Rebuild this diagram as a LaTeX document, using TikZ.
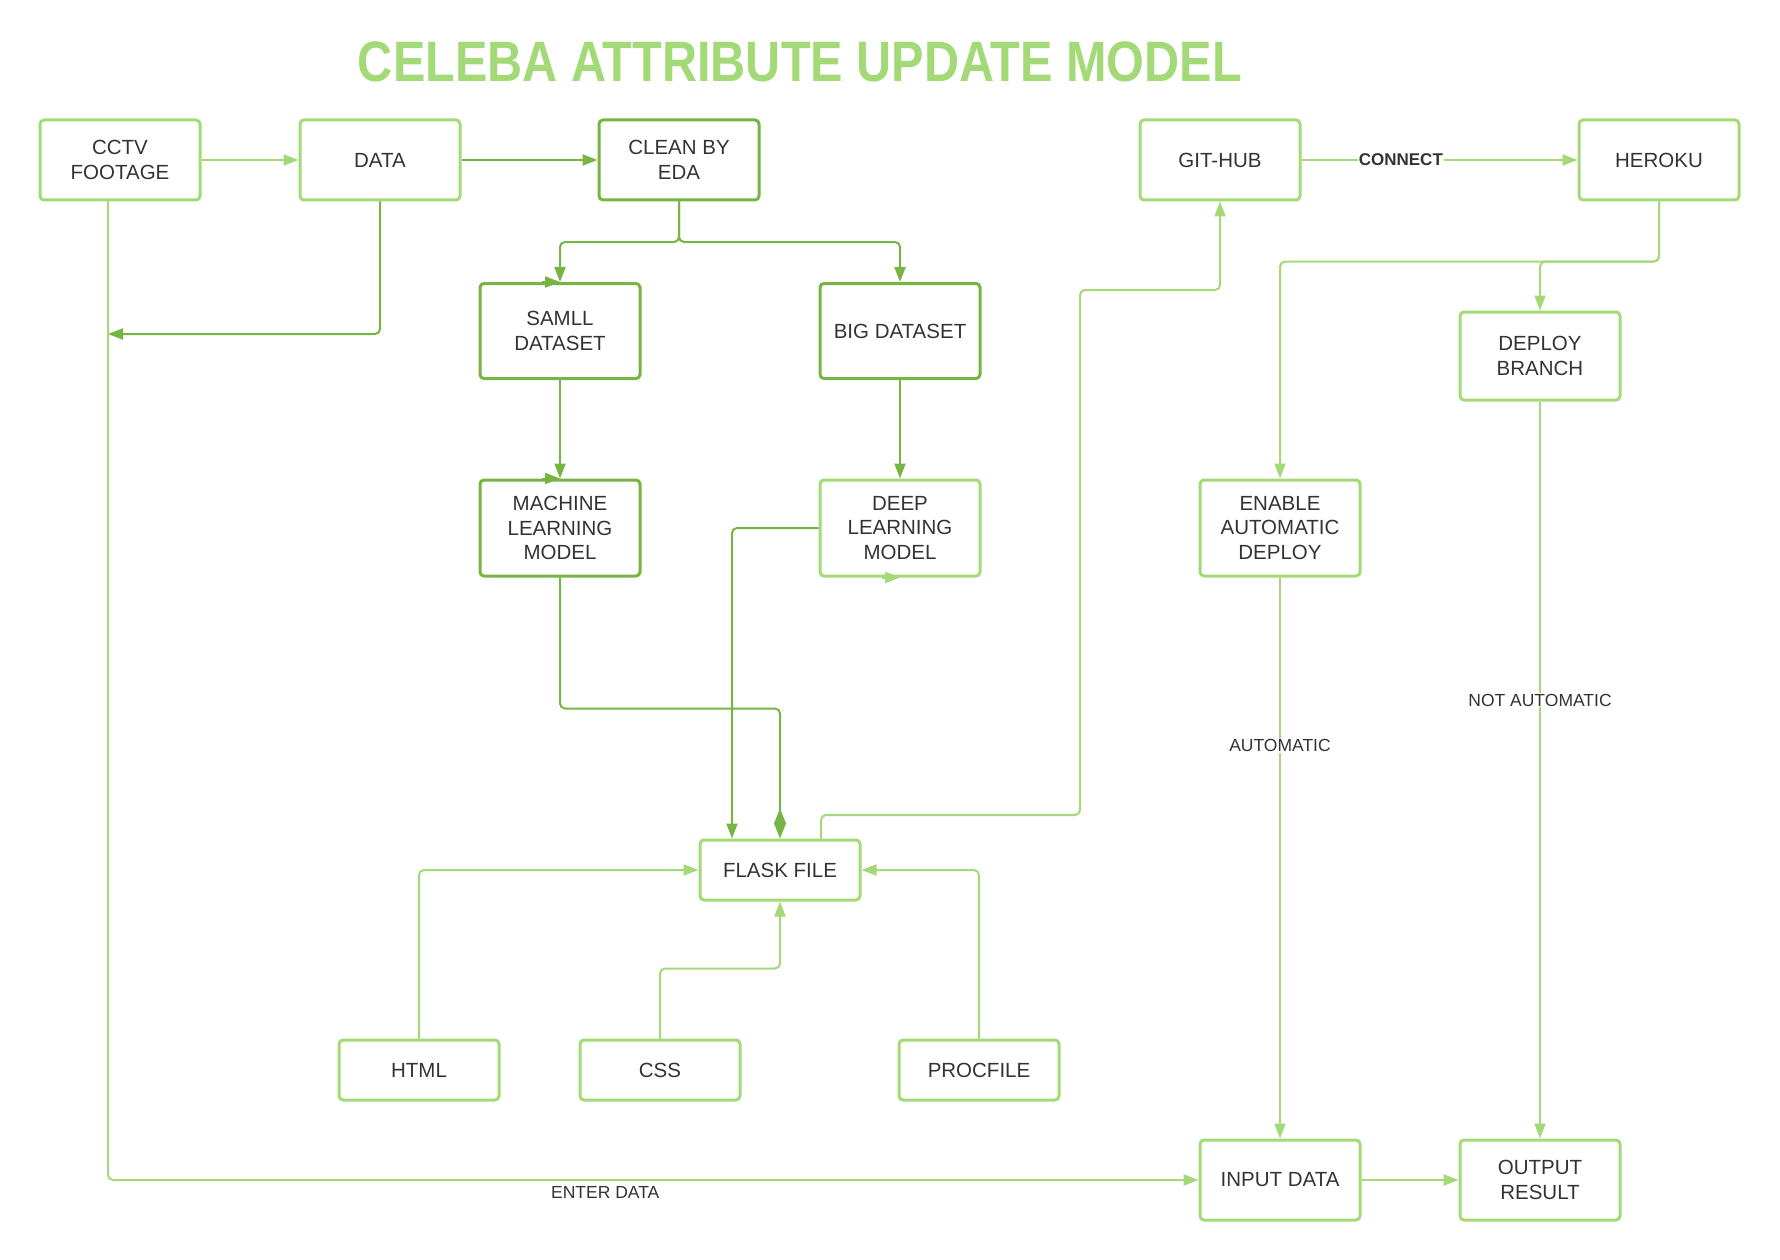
\documentclass[tikz,border=0pt]{standalone}
\usepackage{fontspec}
\setmainfont{Liberation Sans}
\usetikzlibrary{arrows.meta}
\definecolor{lg}{HTML}{A3D977}
\definecolor{dg}{HTML}{76B443}
\definecolor{tx}{HTML}{333333}
\begin{document}
\begin{tikzpicture}[x=1pt,y=-1pt,
 box/.style={draw=lg, line width=3pt, rounded corners=4pt, minimum width=160pt, minimum height=80pt, align=center, font=\fontsize{20.5}{24.5}\selectfont, text=tx, inner sep=0pt},
 dbox/.style={box, draw=dg},
 la/.style={draw=lg, line width=2pt, rounded corners=5pt, -{Triangle[length=15pt,width=11pt]}},
 da/.style={la, draw=dg},
 lbl/.style={font=\fontsize{17.5}{19}\selectfont, text=tx, fill=white, inner sep=1pt}
]
\useasboundingbox (0,0) rectangle (1780,1260);
\node[font=\fontsize{57}{60}\selectfont\bfseries, text=lg, xscale=0.853] (title) at (800,62) {CELEBA ATTRIBUTE UPDATE MODEL};

\node[box] (cctv) at (120,160) {CCTV\\FOOTAGE};
\node[box] (data) at (380,160) {DATA};
\node[dbox] (clean) at (679,160) {CLEAN BY\\EDA};
\node[box] (git) at (1220,160) {GIT-HUB};
\node[box] (heroku) at (1659,160) {HEROKU};
\node[dbox, minimum height=95pt] (sm) at (560,331) {SAMLL\\DATASET};
\node[dbox, minimum height=95pt] (big) at (900,331) {BIG DATASET};
\node[box, minimum height=88pt] (deploy) at (1540,356) {DEPLOY\\BRANCH};
\node[dbox, minimum height=96pt] (ml) at (560,528) {MACHINE\\LEARNING\\MODEL};
\node[box, minimum height=96pt] (deep) at (900,528) {DEEP\\LEARNING\\MODEL};
\node[box, minimum height=96pt] (enable) at (1280,528) {ENABLE\\AUTOMATIC\\DEPLOY};
\node[box, minimum height=60pt] (flask) at (780,870) {FLASK FILE};
\node[box, minimum height=60pt] (html) at (419,1070) {HTML};
\node[box, minimum height=60pt] (css) at (660,1070) {CSS};
\node[box, minimum height=60pt] (proc) at (979,1070) {PROCFILE};
\node[box] (input) at (1280,1180) {INPUT DATA};
\node[box] (output) at (1540,1180) {OUTPUT\\RESULT};

\coordinate (j1) at (108,334);
\coordinate (cb) at (679,242);
\coordinate (g1) at (821,815);
\coordinate (g2) at (1080,815);
\coordinate (g3) at (1080,290);

\draw[la] (cctv) -- (data);
\draw[da] (data) -- (clean);
\draw[da] (data.south) |- (j1);
\draw[la] ([xshift=-12pt]cctv.south) |- node[lbl, pos=0.728, below=4pt, fill=none] {ENTER DATA} (input.west);
\draw[da] (clean.south) -- (cb) -| (sm.north);
\draw[da] (clean.south) -- (cb) -| (big.north);
\draw[da] (sm) -- (ml);
\draw[da] (big) -- (deep);
\draw[da, -{Diamond[length=30pt,width=12pt]}] (ml.south) -- ++(0,131) -| (flask.north);
\draw[da] (deep.west) -| ([xshift=-48pt]flask.north);
\draw[la] ([xshift=41pt]flask.north) -- (g1) -- (g2) -- (g3) -| (git.south);
\draw[la] (git) -- node[lbl, pos=0.36, font=\fontsize{17}{19}\selectfont\bfseries] {CONNECT} (heroku);
\draw[la] (heroku.south) -- ++(0,60) -| (enable.north);
\draw[la] (heroku.south) -- ++(0,60) -| (deploy.north);
\draw[la] (deploy) -- node[lbl, pos=0.405] {NOT AUTOMATIC} (output);
\draw[la] (enable) -- node[lbl, pos=0.30] {AUTOMATIC} (input);
\draw[la] (input) -- (output);
\draw[la] (html.north) |- (flask.west);
\draw[la] (css.north) -- ++(0,-70) -| (flask.south);
\draw[la] (proc.north) |- (flask.east);

\draw[da] ([xshift=-18pt]sm.north) -- (sm.north);
\draw[da] ([xshift=-18pt]ml.north) -- (ml.north);
\draw[la] ([xshift=-18pt]deep.south) -- (deep.south);
\end{tikzpicture}
\end{document}
